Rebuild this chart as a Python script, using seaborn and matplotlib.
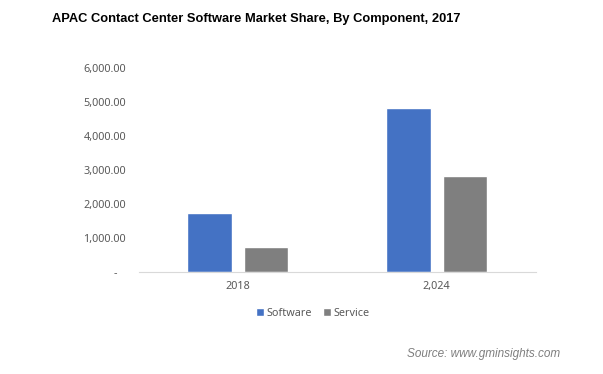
import pandas as pd
import seaborn as sns
from matplotlib import pyplot as plt
from matplotlib.ticker import FuncFormatter

years = ["2018", "2,024"]
components = ["Software", "Service"]
software = [1760, 4830]
service = [760, 2830]

df = pd.DataFrame({
    "year": years * 2,
    "component": ["Software"] * 2 + ["Service"] * 2,
    "value": software + service,
})

sns.set_style("white")
plt.rcParams["font.family"] = ["Noto Sans", "DejaVu Sans"]

fig = plt.figure(figsize=(6.03, 3.74), dpi=100)
ax = fig.add_axes([0.2297, 0.2714, 0.8889 - 0.2297, 0.8174 - 0.2714])

sns.barplot(data=df, x="year", y="value", hue="component", hue_order=components,
            palette=["#4472C4", "#7F7F7F"], width=0.567, gap=0.21,
            saturation=1, ax=ax, legend=True)

ax.set_xlim(-0.5, 1.5)
ax.set_ylim(0, 6000)
ax.set_yticks(range(0, 6001, 1000))
ax.yaxis.set_major_formatter(FuncFormatter(lambda v, p: "-   " if v == 0 else "{:,.2f}".format(v)))
ax.set_xlabel("")
ax.set_ylabel("")
ax.tick_params(axis="y", length=0, pad=9, labelsize=7.8, labelcolor="#595959")
ax.tick_params(axis="x", length=0, pad=6, labelsize=7.8, labelcolor="#595959")
for s in ["top", "right", "left"]:
    ax.spines[s].set_visible(False)
ax.spines["bottom"].set_color("#D9D9D9")
ax.spines["bottom"].set_linewidth(0.8)

handles, labels = ax.get_legend_handles_labels()
ax.legend(handles, labels, loc="center", bbox_to_anchor=(313 / 603, 1 - 313 / 374),
          bbox_transform=fig.transFigure, ncol=2, frameon=False, fontsize=7.8,
          handlelength=0.7, handleheight=0.7, handletextpad=0.3, columnspacing=1.0,
          labelcolor="#595959")

fig.text(256 / 603, 1 - 19 / 374, "APAC Contact Center Software Market Share, By Component, 2017",
         ha="center", va="center", fontsize=9.3, fontweight="bold", family="Liberation Sans", color="#000000")
fig.text(560 / 603, 1 - 354 / 374, "Source: www.gminsights.com", ha="right", va="center",
         fontsize=8.5, style="italic", family="Liberation Sans", color="#7F7F7F")

plt.savefig("out.png", dpi=100)
